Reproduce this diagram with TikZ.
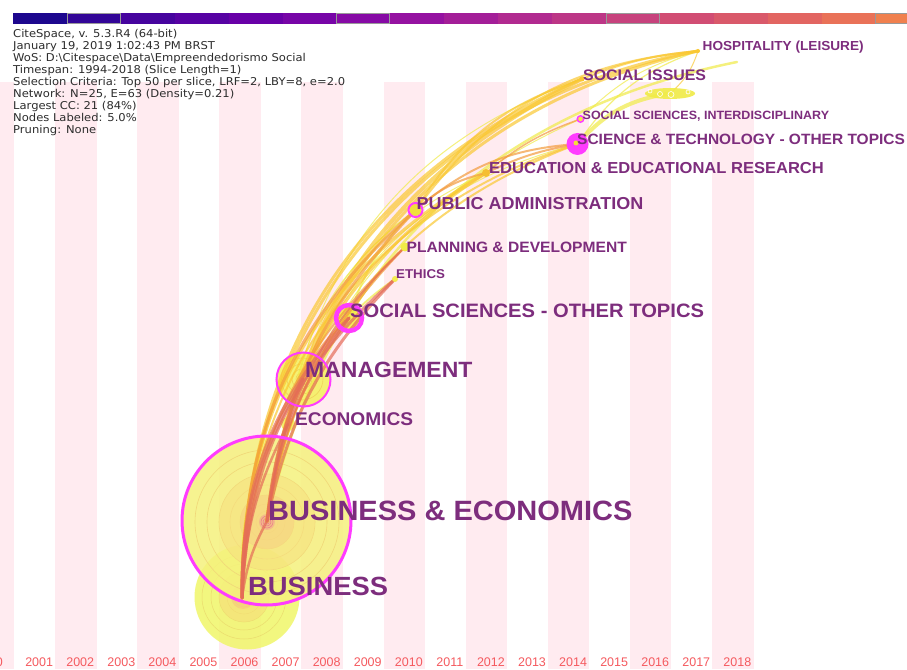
\documentclass[tikz,border=0pt]{standalone}
\usepackage{fontspec}
\newfontfamily\infofont[FakeStretch=1.07]{DejaVu Sans}
\newfontfamily\lblfont[FakeStretch=1.04]{Liberation Sans Bold}
\newfontfamily\yrfont{Liberation Sans}
\definecolor{lblc}{RGB}{125,45,125}
\definecolor{stripec}{RGB}{255,235,240}
\definecolor{infoc}{RGB}{45,45,45}
\definecolor{yrc}{RGB}{245,90,95}
\definecolor{magc}{RGB}{255,60,255}
\definecolor{coralc}{RGB}{228,108,88}
\definecolor{orngc}{RGB}{243,155,60}
\definecolor{goldc}{RGB}{250,200,50}
\definecolor{yelc}{RGB}{240,235,70}
\definecolor{bA}{RGB}{240,246,105}
\definecolor{bRing}{RGB}{235,220,110}
\definecolor{bMid}{RGB}{246,222,120}
\definecolor{bCen}{RGB}{245,200,125}
\definecolor{beA}{RGB}{245,242,125}
\definecolor{beRing}{RGB}{240,215,120}
\definecolor{beMid}{RGB}{247,225,128}
\definecolor{beIn}{RGB}{247,210,130}
\definecolor{beCen}{RGB}{242,175,140}
\definecolor{beDot}{RGB}{235,120,140}
\definecolor{mA}{RGB}{244,240,100}
\definecolor{mRing}{RGB}{240,210,90}
\definecolor{mCen}{RGB}{245,180,70}
\definecolor{ecoA}{RGB}{244,240,110}
\definecolor{ecoC}{RGB}{245,190,80}
\definecolor{ssotA}{RGB}{244,240,90}
\definecolor{ethA}{RGB}{245,235,80}
\definecolor{pubA}{RGB}{240,225,60}
\definecolor{eduA}{RGB}{245,190,50}
\definecolor{sciC}{RGB}{245,220,60}
\definecolor{bar1}{RGB}{29,7,142}
\definecolor{bar2}{RGB}{50,5,151}
\definecolor{bar3}{RGB}{70,4,158}
\definecolor{bar4}{RGB}{87,2,163}
\definecolor{bar5}{RGB}{104,0,167}
\definecolor{bar6}{RGB}{119,5,167}
\definecolor{bar7}{RGB}{134,10,165}
\definecolor{bar8}{RGB}{149,18,161}
\definecolor{bar9}{RGB}{163,30,152}
\definecolor{bar10}{RGB}{177,42,144}
\definecolor{bar11}{RGB}{188,54,134}
\definecolor{bar12}{RGB}{199,66,125}
\definecolor{bar13}{RGB}{209,77,115}
\definecolor{bar14}{RGB}{217,89,106}
\definecolor{bar15}{RGB}{226,101,97}
\definecolor{bar16}{RGB}{233,114,88}
\definecolor{bar17}{RGB}{240,128,78}
\begin{document}
\begin{tikzpicture}[x=1pt,y=1pt,
  lk/.style={line cap=round, opacity=0.7},
  lbl/.style={anchor=base west, inner sep=0pt, text=lblc},
  infotxt/.style={anchor=base west, inner sep=0pt, text=infoc, font=\infofont\fontsize{10.8}{10.8}\selectfont},
  yrlbl/.style={anchor=base, inner sep=0pt, text=yrc, font=\yrfont\fontsize{12.5}{12.5}\selectfont}]
\useasboundingbox (0,0) rectangle (907,669);
\clip (0,0) rectangle (907,669);
\fill[white] (0,0) rectangle (907,669);
% year stripes
\foreach \k in {0,...,9} \fill[stripec] ({-27.14+82.14*\k},0) rectangle ++(41.5,587);
% colour bar
\foreach \i in {1,...,17} \fill[fill=bar\i] ({13+(\i-1)*53.9},645) rectangle ++(53.9,11);
\foreach \i in {2,7,12,17} \draw[gray!80, line width=1] ({13+(\i-1)*53.9+0.5},645.5) rectangle ++(52.9,10);
% info text
\node[infotxt] (i1) at (13,631.7) {CiteSpace, v. 5.3.R4 (64-bit)};
\node[infotxt] (i2) at (13,619.7) {January 19, 2019 1:02:43 PM BRST};
\node[infotxt] (i3) at (13,607.7) {WoS: D:\textbackslash Citespace\textbackslash Data\textbackslash Empreendedorismo Social};
\node[infotxt] (i4) at (13,595.7) {Timespan: 1994-2018 (Slice Length=1)};
\node[infotxt] (i5) at (13,583.7) {Selection Criteria: Top 50 per slice, LRF=2, LBY=8, e=2.0};
\node[infotxt] (i6) at (13,571.7) {Network: N=25, E=63 (Density=0.21)};
\node[infotxt] (i7) at (13,559.7) {Largest CC: 21 (84\%)};
\node[infotxt] (i8) at (13,547.7) {Nodes Labeled: 5.0\%};
\node[infotxt] (i9) at (13,535.7) {Pruning: None};
% coordinates of nodes
\coordinate (b) at (242,71);
\coordinate (be) at (267,148);
\coordinate (eco) at (288,245);
\coordinate (man) at (303,290);
\coordinate (ssot) at (349,351);
\coordinate (eth) at (395,390);
\coordinate (pla) at (405,422);
\coordinate (pub) at (415.5,459);
\coordinate (edu) at (486,496);
\coordinate (sci) at (577.5,525);
\coordinate (ssi) at (580.5,550);
\coordinate (soc) at (582,590);
\coordinate (hos) at (698,618);
\coordinate (x18) at (737,607);
\coordinate (clu) at (670,575.5);
% BUSINESS circle
\fill[bA, opacity=0.85] (247,72) circle (52.5);
\foreach \r in {42,33,25,17,10,5}
  \draw[bRing, line width=0.5] (244,72) circle (\r);
\fill[bMid, opacity=0.6] (244,72) circle (25);
\fill[bCen, opacity=0.6] (243,72) circle (12);
% BUSINESS & ECONOMICS circle
\fill[beA, opacity=0.85] (266.5,148.5) circle (84.5);
\foreach \r in {72,60,48,37,27,18,11,6,3}
  \draw[beRing, line width=0.6] (267,147) circle (\r);
\fill[beMid, opacity=0.6] (267,147) circle (48);
\fill[beIn, opacity=0.6] (267,147) circle (27);
\fill[beCen, opacity=0.7] (267,147) circle (8);
\foreach \r in {2,4,6} \draw[beDot, line width=0.5] (267,147) circle (\r);
% MANAGEMENT circle
\fill[mA, opacity=0.9] (303.5,289.5) circle (27);
\foreach \r in {21,15,10,6}
  \draw[mRing, line width=0.6] (302,290) circle (\r);
\fill[mCen, opacity=0.8] (302,290) circle (3);
% small node fills
\fill[ecoA] (eco) circle (7);
\fill[ecoC] (eco) circle (2.5);
\fill[ssotA] (ssot) circle (11);
% links: yellow (recent)
\draw[lk, yelc, line width=2.5] (be) to[bend left=33] (x18);
\draw[lk, yelc, line width=1] (be) to[bend left=28] (ssi);
\draw[lk, yelc, line width=1.5] (b) to[bend left=18] (man);
\draw[lk, yelc, line width=1] (man) to[bend left=20] (pub);
\draw[lk, yelc, line width=1] (man) to[bend left=24] (edu);
\draw[lk, yelc, line width=1] (man) to[bend left=26] (sci);
\draw[lk, yelc, line width=2] (ssot) to[bend left=14] (pub);
\draw[lk, yelc, line width=1] (ssot) to[bend left=8] (pla);
\draw[lk, yelc, line width=2] (ssot) to[bend left=5] (eth);
\draw[lk, yelc, line width=4] (sci) to[bend left=20] (clu);
\draw[lk, yelc, line width=1.2] (sci) to[bend left=18] (hos);
\draw[lk, yelc, line width=1] (ssi) to[bend left=15] (hos);
\draw[lk, yelc, line width=1] (eco) to[bend left=22] (pub);
\draw[lk, yelc, line width=1] (eco) to[bend left=30] (soc);
% links: gold
\draw[lk, goldc, line width=3] (b) to[bend left=30] (edu);
\draw[lk, goldc, line width=2] (b) to[bend left=36] (sci);
\draw[lk, goldc, line width=3] (b) to[bend left=33] (soc);
\draw[lk, goldc, line width=3] (b) to[bend left=40] (hos);
\draw[lk, goldc, line width=3] (be) to[bend left=25] (edu);
\draw[lk, goldc, line width=2] (be) to[bend left=30] (sci);
\draw[lk, goldc, line width=4] (be) to[bend left=28] (soc);
\draw[lk, goldc, line width=3] (be) to[bend left=35] (hos);
\draw[lk, goldc, line width=2] (pub) to[bend left=20] (soc);
\draw[lk, goldc, line width=2] (pub) to[bend left=24] (hos);
\draw[lk, goldc, line width=2] (soc) to[bend left=8] (hos);
\draw[lk, goldc, line width=1] (clu) to[bend right=15] (hos);
% links: orange
\draw[lk, orngc, line width=3] (b) to[bend left=24] (pub);
\draw[lk, orngc, line width=2] (b) to[bend left=22] (pla);
\draw[lk, orngc, line width=3] (be) to[bend left=18] (pub);
\draw[lk, orngc, line width=2] (be) to[bend left=17] (pla);
\draw[lk, orngc, line width=2] (man) to[bend left=12] (ssot);
\draw[lk, orngc, line width=2] (pub) to[bend left=14] (edu);
\draw[lk, orngc, line width=2] (pub) to[bend left=18] (sci);
\draw[lk, orngc, line width=2] (edu) to[bend left=8] (sci);
\draw[lk, orngc, line width=1.5] (edu) to[bend left=10] (ssi);
% links: coral (oldest)
\draw[lk, coralc, line width=2.5] (b) to[bend left=10] (be);
\draw[lk, coralc, line width=2.5] (b) to[bend left=12] (eco);
\draw[lk, coralc, line width=3.5] (b) to[bend left=15] (man);
\draw[lk, coralc, line width=3.5] (b) to[bend left=21] (ssot);
\draw[lk, coralc, line width=3] (b) to[bend left=23] (eth);
\draw[lk, coralc, line width=3] (be) to[bend left=8] (man);
\draw[lk, coralc, line width=3] (be) to[bend left=14] (ssot);
\draw[lk, coralc, line width=3] (be) to[bend left=16] (eth);
\draw[lk, coralc, line width=2] (be) to[bend left=19] (pla);
% cluster of small nodes
\fill[yelc, opacity=0.9] (clu) ellipse (25 and 5.5);
\draw[white, line width=0.6] (650,578) circle (2);
\draw[white, line width=0.6] (660,575) circle (2.5);
\draw[white, line width=0.6] (671,574.5) circle (3);
\draw[white, line width=0.6] (688,577) circle (2);
% node markers and outlines
\draw[magc, line width=3] (266.5,148.5) circle (84.5);
\draw[magc, line width=2] (303.5,289.5) circle (27);
\draw[magc, line width=4.5] (ssot) circle (13);
\fill[ethA] (eth) circle (3);
\fill[yelc] (pla) circle (4.5);
\fill[pubA] (pub) circle (6);
\draw[magc, line width=2] (pub) circle (7);
\fill[eduA] (edu) circle (4);
\fill[magc] (sci) circle (11);
\fill[sciC] (576,526) circle (2.5);
\fill[yelc] (ssi) circle (2.5);
\draw[magc, line width=1.5] (ssi) circle (3.2);
\fill[goldc] (soc) circle (2.5);
\fill[goldc] (hos) circle (2);
% labels
\node[lbl, font=\lblfont\fontsize{27.9}{30}\selectfont] (lbe) at (268,148) {BUSINESS \& ECONOMICS};
\node[lbl, font=\lblfont\fontsize{26.3}{28}\selectfont] (lb) at (248,73) {BUSINESS};
\node[lbl, font=\lblfont\fontsize{22.1}{24}\selectfont] (lman) at (305,291) {MANAGEMENT};
\node[lbl, font=\lblfont\fontsize{18.4}{20}\selectfont] (leco) at (295,243) {ECONOMICS};
\node[lbl, font=\lblfont\fontsize{19.4}{21}\selectfont] (lssot) at (350,351) {SOCIAL SCIENCES - OTHER TOPICS};
\node[lbl, font=\lblfont\fontsize{12.8}{14}\selectfont] (leth) at (396,390) {ETHICS};
\node[lbl, font=\lblfont\fontsize{15}{16}\selectfont] (lpla) at (406.5,416) {PLANNING \& DEVELOPMENT};
\node[lbl, font=\lblfont\fontsize{17.3}{19}\selectfont] (lpub) at (416.5,459) {PUBLIC ADMINISTRATION};
\node[lbl, font=\lblfont\fontsize{15.9}{17}\selectfont] (ledu) at (489,495) {EDUCATION \& EDUCATIONAL RESEARCH};
\node[lbl, font=\lblfont\fontsize{14.9}{16}\selectfont] (lsci) at (577,524.5) {SCIENCE \& TECHNOLOGY - OTHER TOPICS};
\node[lbl, font=\lblfont\fontsize{12}{13}\selectfont] (lssi) at (582.5,549.7) {SOCIAL SCIENCES, INTERDISCIPLINARY};
\node[lbl, font=\lblfont\fontsize{15.3}{16}\selectfont] (lsoc) at (583,588.3) {SOCIAL ISSUES};
\node[lbl, font=\lblfont\fontsize{13.1}{14}\selectfont] (lhos) at (702.5,618) {HOSPITALITY (LEISURE)};
% year labels
\node[yrlbl] (yr2000) at (-11,2) {2000};
\foreach \yr [count=\i from 1] in {2001,...,2018}
  \node[yrlbl] (yr\yr) at ({-1.9+\i*41.07},2) {\yr};
\end{tikzpicture}
\end{document}
